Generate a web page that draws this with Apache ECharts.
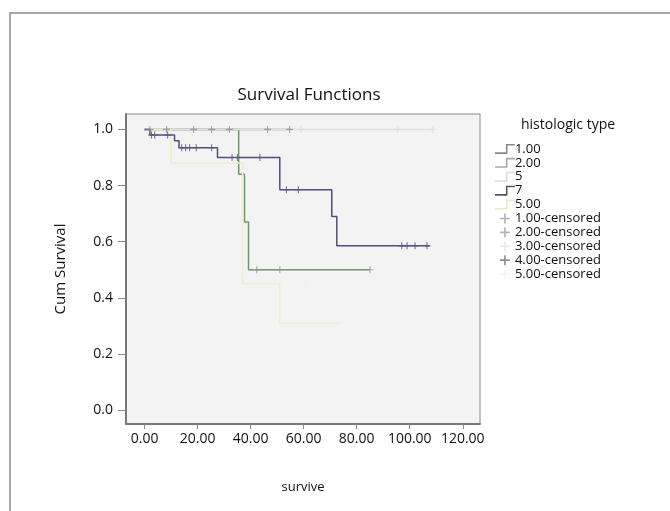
<!DOCTYPE html>
<html>
<head>
<meta charset="utf-8">
<script src="https://cdn.jsdelivr.net/npm/echarts@6/dist/echarts.min.js"></script>
<style>html,body{margin:0;padding:0;background:#fff;}#c{width:670px;height:511px;}</style>
</head>
<body>
<div id="c"></div>
<script>
// Kaplan-Meier step curves (time, cumulative survival)
const g1Times = [0, 35.5, 37.7, 39.2, 85];
const g1Surv  = [1.0, 0.84, 0.67, 0.50, 0.50];
const g2Times = [0, 55];
const g2Surv  = [1.0, 1.0];
const g3Times = [0, 108.7];
const g3Surv  = [1.0, 1.0];
const g4Times = [0, 2, 11.3, 13, 27.5, 51, 70.6, 72.5, 107.5];
const g4Surv  = [1.0, 0.98, 0.96, 0.935, 0.90, 0.785, 0.69, 0.585, 0.585];
const g5Times = [0, 10, 37, 51, 73];
const g5Surv  = [1.0, 0.88, 0.45, 0.31, 0.31];

// censored observations
const c1Times = [42.3, 51, 85];
const c1Surv  = [0.50, 0.50, 0.50];
const c2Times = [2, 8.3, 18.5, 25.3, 32, 46.4, 54.7];
const c2Surv  = [1, 1, 1, 1, 1, 1, 1];
const c3Times = [59, 95.5, 108.7];
const c3Surv  = [1, 1, 1];
const c4Times = [2.6, 3.8, 8.7, 14, 15.5, 17, 19.5, 25.3, 33, 35, 43.5, 53.5, 58, 97, 99, 102, 106.5];
const c4Surv  = [0.98, 0.98, 0.98, 0.935, 0.935, 0.935, 0.935, 0.935, 0.90, 0.90, 0.90, 0.785, 0.785, 0.585, 0.585, 0.585, 0.585];
const c5Times = [61, 73];
const c5Surv  = [0.45, 0.31];

const curveNames = ['1.00', '2.00', '5', '7', '5.00'];
const censorNames = ['1.00-censored', '2.00-censored', '3.00-censored', '4.00-censored', '5.00-censored'];
const xTicks = [0, 20, 40, 60, 80, 100, 120];
const yTicks = [0, 0.2, 0.4, 0.6, 0.8, 1.0];

const zip = (a, b) => a.map((v, i) => [v, b[i]]);
const curveData = [zip(g1Times, g1Surv), zip(g2Times, g2Surv), zip(g3Times, g3Surv), zip(g4Times, g4Surv), zip(g5Times, g5Surv)];
const censorData = [zip(c1Times, c1Surv), zip(c2Times, c2Surv), zip(c3Times, c3Surv), zip(c4Times, c4Surv), zip(c5Times, c5Surv)];

const curveColors = ['#74946a', '#9a9a9a', '#e0e0e0', '#4d4f78', '#f0edcf'];
const curveLegendColors = ['#8a8a8a', '#a8a8a8', '#dcdcdc', '#555555', '#ecebc8'];
const censorColors = ['#8a9a86', '#8e8e8e', '#dddddd', '#55577e', '#eeeeee'];
const censorLegendColors = ['#a0a0a0', '#a0a0a0', '#e2e2e2', '#707070', '#f0f0f0'];

const stepIcon = 'path://M0,8.5 L11,8.5 L11,0 L20,0 L20,1.6 L12.6,1.6 L12.6,10.1 L0,10.1 Z';
const plusIcon = 'path://M4.2,0 L5.8,0 L5.8,4.2 L10,4.2 L10,5.8 L5.8,5.8 L5.8,10 L4.2,10 L4.2,5.8 L0,5.8 L0,4.2 L4.2,4.2 Z';

const FONT = 'Open Sans, Lato, sans-serif';

const series = [];
curveNames.forEach((n, i) => {
  series.push({
    name: n, type: 'line', step: 'end', data: curveData[i],
    showSymbol: false, symbol: 'none',
    lineStyle: { color: curveColors[i], width: 1.5 },
    itemStyle: { color: curveColors[i] },
    z: i === 3 ? 5 : 3, animation: false
  });
});
censorNames.forEach((n, i) => {
  series.push({
    name: n, type: 'scatter', data: censorData[i],
    symbol: plusIcon, symbolSize: 7,
    itemStyle: { color: censorColors[i] },
    z: 6, animation: false
  });
});

const legendData = curveNames.map((n, i) => ({ name: n, icon: stepIcon, itemStyle: { color: curveLegendColors[i] } }))
  .concat(censorNames.map((n, i) => ({ name: n, icon: plusIcon, itemStyle: { color: censorLegendColors[i] } })));

const chart = echarts.init(document.getElementById('c'), null, { renderer: 'canvas' });
chart.setOption({
  backgroundColor: '#ffffff',
  animation: false,
  title: {
    text: 'Survival Functions', left: 304, top: 82, textAlign: 'center',
    textStyle: { fontFamily: FONT, fontSize: 17, fontWeight: 'normal', color: '#111' }
  },
  graphic: [
    { type: 'rect', shape: { x: 10, y: 13, width: 700, height: 600 }, style: { fill: 'none', stroke: '#8a8a8a', lineWidth: 1.5 }, silent: true },
    { type: 'text', left: 521, top: 118, style: { text: 'histologic type', fontFamily: FONT, fontSize: 14, fill: '#111' } }
  ],
  legend: {
    orient: 'vertical', left: 490, top: 137,
    itemWidth: 20, itemHeight: 10, itemGap: 0,
    selectedMode: false,
    textStyle: { fontFamily: FONT, fontSize: 13, lineHeight: 13.9, color: '#111', padding: [0, 0, 0, -5] },
    data: legendData
  },
  grid: {
    left: 126, right: 190, top: 114, bottom: 87,
    show: true, backgroundColor: '#f3f3f3', borderColor: '#8a8a8a', borderWidth: 1
  },
  xAxis: {
    type: 'value', min: -7, max: 126.5,
    name: 'survive', nameLocation: 'middle', nameGap: 57,
    nameTextStyle: { fontFamily: FONT, fontSize: 13, color: '#111' },
    axisLine: { show: true, onZero: false, lineStyle: { color: '#777', width: 2 } },
    axisTick: { show: true, length: 5, lineStyle: { color: '#888' }, customValues: xTicks },
    axisLabel: { fontFamily: FONT, fontSize: 14, color: '#111', margin: 8, customValues: xTicks, formatter: v => v.toFixed(2) },
    splitLine: { show: false }
  },
  yAxis: {
    type: 'value', min: -0.05, max: 1.055,
    name: 'Cum Survival', nameLocation: 'middle', nameGap: 58,
    nameTextStyle: { fontFamily: FONT, fontSize: 15, color: '#111' },
    axisLine: { show: true, onZero: false, lineStyle: { color: '#777', width: 2 } },
    axisTick: { show: true, length: 8, lineStyle: { color: '#888' }, customValues: yTicks },
    axisLabel: { fontFamily: FONT, fontSize: 14, color: '#111', margin: 13, customValues: yTicks, formatter: v => v.toFixed(1) },
    splitLine: { show: false }
  },
  series: series
});
</script>
</body>
</html>
